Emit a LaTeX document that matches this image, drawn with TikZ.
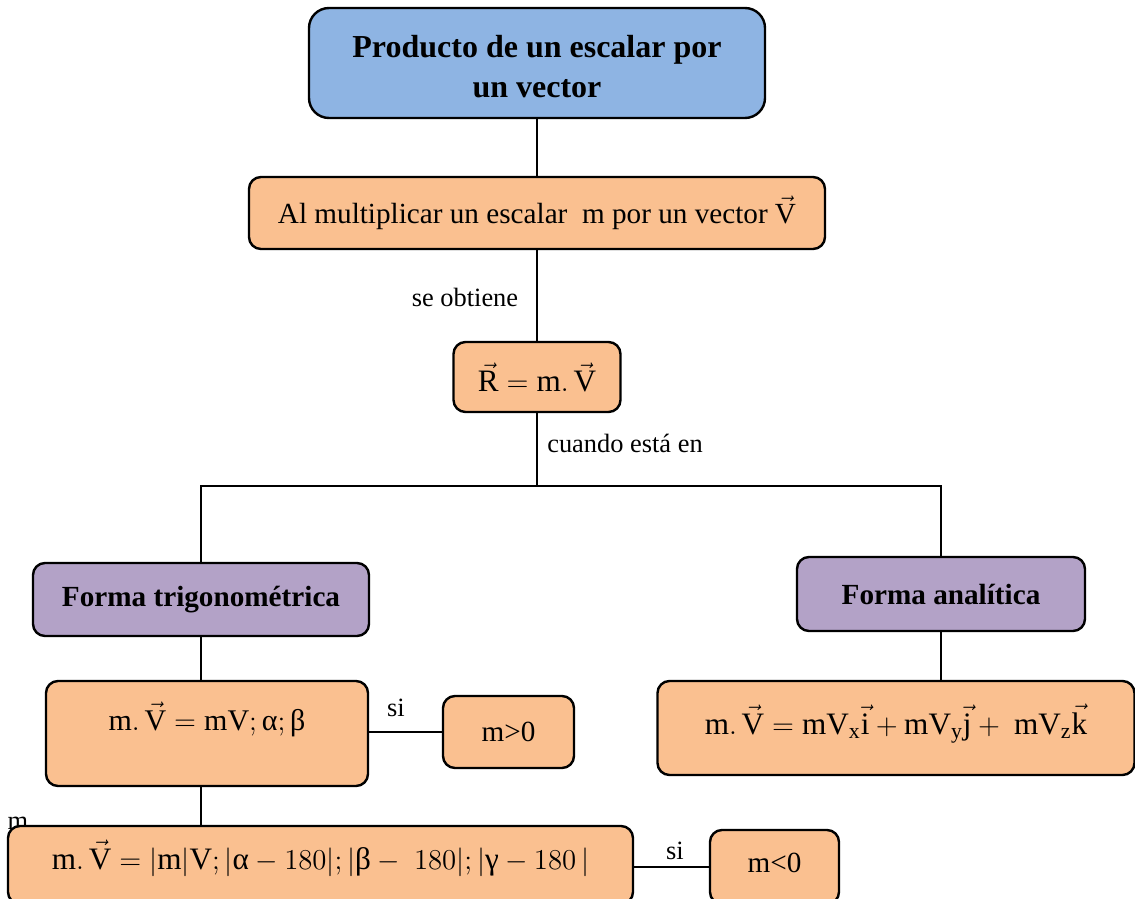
\documentclass[tikz,border=0pt]{standalone}
\usepackage{fontspec}
\setmainfont{Liberation Serif}
\newcommand{\gk}[1]{\mbox{#1}}
\begin{document}
\definecolor{titleblue}{HTML}{8EB4E3}
\definecolor{peach}{HTML}{FAC090}
\definecolor{lilac}{HTML}{B3A2C7}
\begin{tikzpicture}[x=0.5pt,y=-0.5pt,
  box/.style={draw=black,line width=1.2pt,rounded corners=6pt,fill=peach,
    inner sep=0pt,align=center,font=\fontsize{14.6}{17}\selectfont},
  formbox/.style={box,font=\fontsize{14.6}{17}\selectfont\bfseries,fill=lilac},
  mathbox/.style={box,font=\fontsize{15.6}{18}\selectfont},
  titlebox/.style={box,fill=titleblue,rounded corners=10pt,
    font=\fontsize{16}{20}\selectfont\bfseries},
  link/.style={line width=1pt},
  tag/.style={font=\fontsize{13.2}{15}\selectfont,inner sep=0pt}]
\useasboundingbox (0,0) rectangle (1135,899);

% partly hidden letter behind the lowest box
\node[tag] (stray) at (18,823) {m};

% boxes (sizes in pt: half the drawing units)
\node[titlebox,minimum width=228pt,minimum height=55pt,text depth=4pt] (title) at (537,63)
  {\rule{0pt}{18.5pt}Producto de un escalar por\\un vector};
\node[box,minimum width=288pt,minimum height=36pt] (mult) at (537,213)
  {Al multiplicar un escalar \ m por un vector $\vec{\mathrm{V}}$};
\node[mathbox,minimum width=83.5pt,minimum height=35pt] (res) at (537,377)
  {$\vec{\mathrm{R}}=\mathrm{m.}\,\vec{\mathrm{V}}$};
\node[formbox,minimum width=168pt,minimum height=36.5pt] (trig) at (201,599.5)
  {Forma trigonométrica};
\node[formbox,minimum width=144pt,minimum height=37pt] (anal) at (941,594)
  {Forma analítica};
\node[mathbox,font=\fontsize{15}{18}\selectfont,minimum width=161pt,minimum height=52.5pt,
  text height=14pt,text depth=17.5pt] (polar) at (207,733.5)
  {$\mathrm{m.}\,\vec{\mathrm{V}}=\mathrm{mV};\gk{α};\gk{β}$};
\node[box,minimum width=65.5pt,minimum height=36pt] (mpos) at (508.5,732) {m>0};
\node[mathbox,minimum width=312.5pt,minimum height=39pt,text height=14pt,text depth=10pt]
  (neg) at (320.5,865)
  {$\mathrm{m.}\,\vec{\mathrm{V}}=|\mathrm{m}|\mathrm{V};|\gk{α}-180|;|\gk{β}-\ 180|;|\gk{γ}-180\,|$};
\node[box,minimum width=64.5pt,minimum height=37pt,text height=11pt,text depth=6pt] (mneg) at (774.5,867) {m<0};
\node[mathbox,minimum width=238.5pt,minimum height=47pt,text height=14pt,text depth=8pt] (comp) at (896,728)
  {$\mathrm{m.}\,\vec{\mathrm{V}}=\mathrm{mV}_{\mathrm{x}}\vec{\mathrm{i}}+\mathrm{mV}_{\mathrm{y}}\vec{\mathrm{j}}+\ \mathrm{mV}_{\mathrm{z}}\vec{\mathrm{k}}$};

% connectors
\coordinate (bus) at (537,486);
\draw[link] (title.south) -- (mult.north);
\draw[link] (mult.south) -- (res.north);
\draw[link] (res.south) -- (bus);
\draw[link] (trig.north) |- (bus) -| (anal.north);
\draw[link] (trig.south) -- (trig.south |- polar.north);
\draw[link] (trig.south |- polar.south) -- (trig.south |- neg.north);
\draw[link] (anal.south) -- (anal.south |- comp.north);
\draw[link] (mpos.west -| polar.east) -- (mpos.west);
\draw[link] (neg.east |- mneg.west) -- (mneg.west);

% connector labels
\node[tag] (obt) at (465,297) {se obtiene};
\node[tag] (cuando) at (625,443) {cuando está en};
\node[tag] (si1) at (396,708) {si};
\node[tag] (si2) at (675,851) {si};
\end{tikzpicture}
\end{document}
